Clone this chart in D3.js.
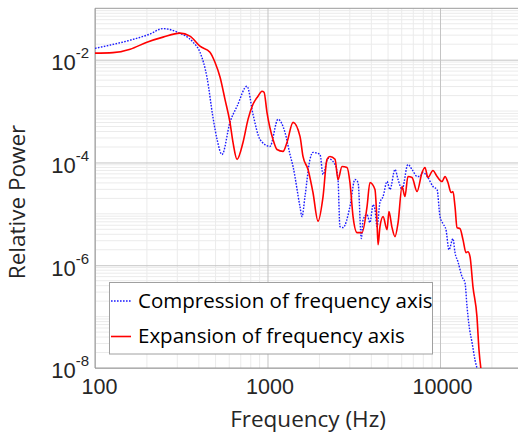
<!DOCTYPE html>
<html>
<head>
<meta charset="utf-8">
<script src="https://cdn.jsdelivr.net/npm/d3@7"></script>
<style>
  body { margin: 0; background: #fff; }
  svg { display: block; font-family: 'Open Sans', 'Noto Sans', sans-serif; }
</style>
</head>
<body>
<div id="chart"></div>
<script>
// compression of frequency axis (blue dotted)
const compFreq = [100, 122, 160, 208, 248, 299, 370, 406, 446, 483, 510, 545, 606, 666, 761, 824, 905, 1033,
  1151, 1263, 1350, 1406, 1543, 1585, 1649, 1763, 1835, 2015, 2099, 2244, 2463, 2563, 2630, 2741, 3006,
  3214, 3350, 3500, 3581, 3776, 3926, 4093, 4198, 4315, 4487, 4677, 4932, 5129, 5483, 5715, 6026, 6516,
  6887, 7362, 7656, 7962, 8511, 9104, 9616, 10000, 10400, 10830, 11270, 11890, 12220, 12710, 13420,
  13960, 14350, 14720, 15350, 15960, 16380];
const compPower = [1.66e-2, 1.92e-2, 2.40e-2, 3.15e-2, 4.03e-2, 3.44e-2, 2.19e-2, 1.40e-2, 4.5e-3, 7.55e-4,
  2.81e-4, 1.43e-4, 6.03e-4, 1.24e-3, 3.04e-3, 8.65e-4, 2.81e-4, 2.05e-4, 6.90e-4, 3.85e-4, 1.43e-4, 8.36e-5,
  1.38e-5, 8.83e-6, 2.17e-5, 1.15e-4, 1.57e-4, 1.43e-4, 5.83e-5, 1.20e-4, 9.14e-5, 4.66e-5, 5.64e-6, 5.40e-6,
  1.38e-5, 4.66e-5, 4.07e-5, 3.3e-6, 7.73e-6, 9.66e-6, 6.75e-6, 1.51e-5, 1.21e-5, 5.64e-6, 1.66e-5, 2.17e-5,
  4.26e-5, 2.97e-5, 7.30e-5, 4.66e-5, 2.97e-5, 9.14e-5, 7.30e-5, 5.33e-5, 5.33e-5, 6.38e-5, 5.09e-5, 3.40e-5,
  2.97e-5, 8.83e-6, 6.46e-6, 4.93e-6, 2.00e-6, 3.29e-6, 1.75e-6, 1.17e-6, 5.97e-7, 4.56e-7, 1.55e-7, 6.90e-8,
  3.08e-8, 1.43e-8, 1.0e-8];

// expansion of frequency axis (red solid)
const expFreq = [100, 127, 160, 200, 248, 311, 355, 406, 464, 496, 531, 567, 606, 631, 666, 721, 771, 824, 881,
  929, 955, 993, 1076, 1135, 1230, 1297, 1406, 1543, 1606, 1718, 1835, 1963, 2099, 2213, 2303, 2463, 2563,
  2704, 2891, 3006, 3133, 3304, 3532, 3776, 3926, 4198, 4315, 4375, 4487, 4677, 4932, 5058, 5272, 5483, 5715,
  6026, 6266, 6516, 6887, 7362, 7870, 8185, 8511, 9104, 9616, 10280, 10690, 11120, 11590, 11890, 12220,
  12550, 13060, 13590, 14150, 14520, 14930, 15530, 16380, 16830, 17300];
const expPower = [1.34e-2, 1.37e-2, 1.60e-2, 2.19e-2, 2.75e-2, 3.29e-2, 2.88e-2, 1.83e-2, 1.40e-2, 8.93e-3,
  4.56e-3, 1.69e-3, 6.03e-4, 2.45e-4, 1.15e-4, 2.45e-4, 6.90e-4, 1.36e-3, 1.94e-3, 2.43e-3, 2.32e-3, 9.46e-4,
  2.81e-4, 1.79e-4, 1.64e-4, 2.45e-4, 6.03e-4, 3.21e-4, 1.31e-4, 7.30e-5, 2.60e-5, 7.2e-6, 2.17e-5, 1.15e-4,
  1.31e-4, 1.15e-4, 4.66e-5, 8.36e-5, 7.98e-5, 4.07e-5, 8.83e-6, 4.31e-6, 4.31e-6, 1.38e-5, 4.07e-5, 2.97e-5,
  6.75e-6, 2.51e-6, 5.64e-6, 8.83e-6, 4.93e-6, 1.11e-5, 5.40e-6, 3.60e-6, 6.75e-6, 3.40e-5, 2.17e-5, 5.33e-5,
  5.09e-5, 2.72e-5, 6.38e-5, 7.98e-5, 5.09e-5, 6.98e-5, 5.33e-5, 4.26e-5, 5.33e-5, 4.07e-5, 2.60e-5, 2.72e-5,
  1.38e-5, 5.40e-6, 5.15e-6, 3.15e-6, 1.75e-6, 1.83e-6, 1.47e-6, 3.80e-7, 9.89e-8, 2.24e-8, 9.14e-9];

const xTicks = [100, 1000, 10000];
const xTickLabels = ['100', '1000', '10000'];
const yTicks = [1e-8, 1e-6, 1e-4, 1e-2];
const yTickExponents = ['-8', '-6', '-4', '-2'];
const legendLabels = ['Compression of frequency axis', 'Expansion of frequency axis'];

const W = 518, H = 434;
const plot = { left: 95, top: 8.3, right: 522.3, bottom: 368 };

const svg = d3.select('#chart')
  .append('svg')
  .attr('width', W)
  .attr('height', H);

const x = d3.scaleLog().domain([100, 30000]).range([plot.left, plot.right]);
const y = d3.scaleLog().domain([1e-8, 1e-1]).range([plot.bottom, plot.top]);

// minor grid values: 1..9 x 10^n
const xMinor = [];
for (let e = 2; e <= 4; e++) for (let m = 1; m <= 9; m++) {
  const v = m * Math.pow(10, e);
  if (v <= 30000 && !xTicks.includes(v)) xMinor.push(v);
}
const yMinor = [];
for (let e = -8; e <= -2; e++) for (let m = 1; m <= 9; m++) {
  const v = m * Math.pow(10, e);
  if (!yTicks.some(t => Math.abs(t - v) / v < 1e-9)) yMinor.push(v);
}

const grid = svg.append('g').attr('class', 'grid');
grid.selectAll('.xminor').data(xMinor).enter().append('line')
  .attr('x1', d => x(d)).attr('x2', d => x(d))
  .attr('y1', plot.top).attr('y2', plot.bottom)
  .attr('stroke', '#ebebeb').attr('stroke-width', 1);
grid.selectAll('.yminor').data(yMinor).enter().append('line')
  .attr('x1', plot.left).attr('x2', plot.right)
  .attr('y1', d => y(d)).attr('y2', d => y(d))
  .attr('stroke', '#ebebeb').attr('stroke-width', 1);

// major grid via axes
const xAxis = d3.axisBottom(x)
  .tickValues(xTicks)
  .tickSize(-(plot.bottom - plot.top))
  .tickFormat((d, i) => xTickLabels[i]);
const gx = svg.append('g')
  .attr('transform', `translate(0,${plot.bottom})`)
  .call(xAxis);
gx.select('.domain').remove();
gx.selectAll('.tick line').attr('stroke', '#c4c4c4');
gx.selectAll('.tick text')
  .attr('fill', '#262626')
  .attr('font-size', 21.5)
  .attr('y', 7)
  .attr('dy', '0.9em')
  .attr('dx', (d, i) => i === 0 ? 4 : 2);

const yAxis = d3.axisLeft(y)
  .tickValues(yTicks)
  .tickSize(-(plot.right - plot.left))
  .tickFormat(() => '');
const gy = svg.append('g')
  .attr('transform', `translate(${plot.left},0)`)
  .call(yAxis);
gy.select('.domain').remove();
gy.selectAll('.tick line').attr('stroke', '#c4c4c4');
gy.selectAll('.tick text').each(function (d, i) {
  const t = d3.select(this)
    .attr('fill', '#262626')
    .attr('font-size', 22)
    .attr('x', -6)
    .attr('dy', '0.45em');
  t.append('tspan').text('10');
  t.append('tspan').attr('font-size', 15).attr('dy', '-12px').text(yTickExponents[i]);
});

// axis box lines
svg.append('line')
  .attr('x1', plot.left).attr('x2', plot.left)
  .attr('y1', plot.top).attr('y2', plot.bottom)
  .attr('stroke', '#9a9a9a');
svg.append('line')
  .attr('x1', plot.left).attr('x2', plot.right)
  .attr('y1', plot.top).attr('y2', plot.top)
  .attr('stroke', '#9a9a9a');
svg.append('line')
  .attr('x1', plot.left).attr('x2', plot.right)
  .attr('y1', plot.bottom).attr('y2', plot.bottom)
  .attr('stroke', '#9a9a9a');

svg.append('clipPath').attr('id', 'clip')
  .append('rect')
  .attr('x', plot.left).attr('y', plot.top)
  .attr('width', plot.right - plot.left)
  .attr('height', plot.bottom - plot.top);

const line = d3.line()
  .x(d => x(d[0]))
  .y(d => y(d[1]))
  .curve(d3.curveMonotoneX);

const compData = compFreq.map((f, i) => [f, compPower[i]]);
const expData = expFreq.map((f, i) => [f, expPower[i]]);

const lines = svg.append('g').attr('clip-path', 'url(#clip)');
lines.append('path')
  .datum(compData)
  .attr('fill', 'none')
  .attr('stroke', '#1a1aff')
  .attr('stroke-width', 1.4)
  .attr('stroke-dasharray', '1.6,1.4')
  .attr('d', line);
lines.append('path')
  .datum(expData)
  .attr('fill', 'none')
  .attr('stroke', '#ff0000')
  .attr('stroke-width', 1.6)
  .attr('d', line);

// legend
const legend = svg.append('g').attr('class', 'legend');
legend.append('rect')
  .attr('x', 109.5).attr('y', 282.5)
  .attr('width', 323).attr('height', 71.5)
  .attr('fill', '#fff')
  .attr('stroke', '#a0a0a0');
const legendStyles = [
  { color: '#1a1aff', dash: '1.6,1.4', width: 1.4 },
  { color: '#ff0000', dash: null, width: 1.6 }
];
legendLabels.forEach((label, i) => {
  const ly = 301 + i * 35.5;
  legend.append('line')
    .attr('x1', 111).attr('x2', 131)
    .attr('y1', ly).attr('y2', ly)
    .attr('stroke', legendStyles[i].color)
    .attr('stroke-width', legendStyles[i].width)
    .attr('stroke-dasharray', legendStyles[i].dash);
  legend.append('text')
    .attr('x', 138).attr('y', ly + 6.5)
    .attr('font-size', 20.5)
    .attr('fill', '#000')
    .text(label);
});

// axis titles
svg.append('text')
  .attr('x', 308).attr('y', 427)
  .attr('text-anchor', 'middle')
  .attr('font-size', 22.5)
  .attr('fill', '#262626')
  .text('Frequency (Hz)');
svg.append('text')
  .attr('transform', 'translate(25,202) rotate(-90)')
  .attr('text-anchor', 'middle')
  .attr('font-size', 22.5)
  .attr('fill', '#262626')
  .text('Relative Power');
</script>
</body>
</html>
